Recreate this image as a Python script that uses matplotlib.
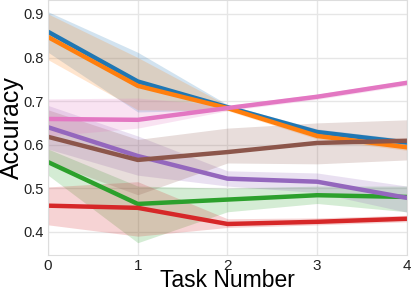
import matplotlib
matplotlib.use("Agg")
import matplotlib.pyplot as plt
import numpy as np

tasks = [0, 1, 2, 3, 4]

blue_mean = [0.859, 0.745, 0.686, 0.629, 0.605]
blue_lo = [0.812, 0.675, 0.680, 0.622, 0.598]
blue_hi = [0.905, 0.812, 0.692, 0.636, 0.612]

orange_mean = [0.847, 0.735, 0.684, 0.620, 0.594]
orange_lo = [0.795, 0.680, 0.678, 0.613, 0.587]
orange_hi = [0.900, 0.800, 0.690, 0.627, 0.601]

green_mean = [0.560, 0.464, 0.474, 0.484, 0.480]
green_lo = [0.530, 0.375, 0.446, 0.465, 0.446]
green_hi = [0.590, 0.505, 0.500, 0.505, 0.505]

red_mean = [0.460, 0.455, 0.418, 0.423, 0.430]
red_lo = [0.416, 0.390, 0.410, 0.416, 0.423]
red_hi = [0.503, 0.515, 0.430, 0.432, 0.438]

purple_mean = [0.640, 0.574, 0.522, 0.515, 0.478]
purple_lo = [0.590, 0.530, 0.505, 0.490, 0.445]
purple_hi = [0.690, 0.620, 0.540, 0.535, 0.505]

brown_mean = [0.618, 0.565, 0.583, 0.604, 0.609]
brown_lo = [0.560, 0.485, 0.558, 0.556, 0.565]
brown_hi = [0.680, 0.612, 0.638, 0.650, 0.657]

pink_mean = [0.659, 0.657, 0.684, 0.710, 0.742]
pink_lo = [0.620, 0.638, 0.678, 0.704, 0.736]
pink_hi = [0.705, 0.707, 0.690, 0.716, 0.748]

series = [
    ("tab:blue", blue_mean, blue_lo, blue_hi),
    ("tab:orange", orange_mean, orange_lo, orange_hi),
    ("tab:green", green_mean, green_lo, green_hi),
    ("tab:red", red_mean, red_lo, red_hi),
    ("tab:purple", purple_mean, purple_lo, purple_hi),
    ("tab:brown", brown_mean, brown_lo, brown_hi),
    ("tab:pink", pink_mean, pink_lo, pink_hi),
]

plt.rcParams['font.family'] = ['Liberation Sans', 'DejaVu Sans']

fig = plt.figure(figsize=(4.11, 2.91), dpi=100)
ax = fig.add_axes([0.117, 0.124, 0.873, 0.876])

for color, m, lo, hi in series:
    ax.fill_between(tasks, lo, hi, color=color, alpha=0.2, linewidth=0)
    ax.plot(tasks, m, color=color, linewidth=3.2)

ax.set_xlim(0, 4)
ax.set_ylim(0.347, 0.932)
ax.set_xticks(tasks)
ax.set_yticks([0.4, 0.5, 0.6, 0.7, 0.8, 0.9])
ax.set_yticklabels(["0.4", "0.5", "0.6", "0.7", "0.8", "0.9"])
ax.grid(True, color='#e6e6e6', linewidth=1)
ax.set_axisbelow(True)
for s in ax.spines.values():
    s.set_color('#dddddd')
ax.tick_params(axis='y', length=0, labelsize=10.5, pad=3, colors='#222222')
ax.tick_params(axis='x', length=0, labelsize=11, pad=3, colors='#222222')
ax.set_xlabel("Task Number", fontsize=16.5)
ax.set_ylabel("Accuracy", fontsize=18)
ax.xaxis.set_label_coords(0.5, -0.055)
ax.yaxis.set_label_coords(-0.068, 0.5)

fig.savefig("out.png", dpi=100)
